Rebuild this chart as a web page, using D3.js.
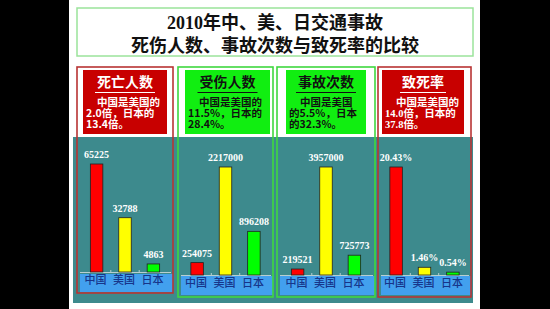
<!DOCTYPE html>
<html>
<head>
<meta charset="utf-8">
<script src="https://cdn.jsdelivr.net/npm/d3@7"></script>
<style>
  body { margin: 0; background: #000; }
  svg { display: block; }
</style>
</head>
<body>
<svg id="chart" width="550" height="309"></svg>
<script>
// data
const categories = ['中国', '美国', '日本'];
const deaths = [65225, 32788, 4863];
const injuries = [254075, 2217000, 896208];
const accidents = [219521, 3957000, 725773];
const fatality = [20.43, 1.46, 0.54];
const titleLines = ['2010年中、美、日交通事故', '死伤人数、事故次数与致死率的比较'];
const panelTitles = ['死亡人数', '受伤人数', '事故次数', '致死率'];
const panelNotes = [
    ['中国是美国的', '2.0倍，日本的', '13.4倍。'],
    ['中国是美国的', '11.5%，日本的', '28.4%。'],
    ['中国是美国', '的5.5%，日本', '的32.3%。'],
    ['中国是美国的', '14.0倍，日本的', '37.8倍。']
];
const barColors = ['#ff0000', '#ffff00', '#00ff00'];

const sans = '"Noto Sans CJK SC", "Noto Sans", sans-serif';
const serif = '"Liberation Serif", "DejaVu Serif", serif';

let svg = d3.select('#chart');

svg.append('rect').attr('width', 550).attr('height', 309).attr('fill', '#000');
svg.append('rect').attr('x', 69).attr('y', 0).attr('width', 411).attr('height', 309).attr('fill', '#fff');

// title
svg.append('rect')
    .attr('x', 77).attr('y', 8).attr('width', 396).attr('height', 48)
    .attr('fill', 'none').attr('stroke', '#9be39b').attr('stroke-width', 1.5);

svg.selectAll('.title')
    .data(titleLines)
    .join('text')
    .classed('title', true)
    .attr('x', 275)
    .attr('y', (d, i) => 28.5 + i * 23.5)
    .attr('text-anchor', 'middle')
    .style('font-family', sans)
    .style('font-weight', 700)
    .style('font-size', '18px')
    .style('fill', '#111')
    .each(function(d){
        let t = d3.select(this);
        let m = d.match(/^(\d+)(.*)$/);
        if (m) {
            t.append('tspan').style('font-family', serif).text(m[1]);
            t.append('tspan').text(m[2]);
        } else t.text(d);
    });

// teal plot background
svg.append('rect')
    .attr('x', 73).attr('y', 137).attr('width', 400).attr('height', 166)
    .attr('fill', '#3d8a8d');

let panels = [
    {x0: 77, x1: 173, hx0: 83, hx1: 167, base: 272, bandTop: 274, bandBot: 292, bottom: 293,
        values: deaths, fmt: d => d, theme: 'red', numFont: sans},
    {x0: 178, x1: 273, hx0: 185, hx1: 270, base: 275, bandTop: 276, bandBot: 295, bottom: 297,
        values: injuries, fmt: d => d, theme: 'green', numFont: sans},
    {x0: 277, x1: 375, hx0: 286, hx1: 366, base: 275, bandTop: 276, bandBot: 295, bottom: 297,
        values: accidents, fmt: d => d, theme: 'green', numFont: sans},
    {x0: 378, x1: 471, hx0: 382, hx1: 464, base: 275, bandTop: 276, bandBot: 295, bottom: 297,
        values: fatality, fmt: d => d.toFixed(2) + '%', theme: 'red', numFont: serif}
];

panels.forEach((p, k) => {
    let g = svg.append('g');
    let cx = (p.x0 + p.x1) / 2;
    let red = p.theme === 'red';

    // category band
    g.append('rect')
        .attr('x', p.x0 + 3).attr('y', p.bandTop)
        .attr('width', p.x1 - p.x0 - 3).attr('height', p.bandBot - p.bandTop)
        .attr('fill', '#42a0ee');

    let xScale = d3.scaleBand()
        .domain(categories)
        .range([cx - 46, cx + 46])
        .paddingInner(0.56)
        .paddingOuter(0.4);

    let yScale = d3.scaleLinear()
        .domain([0, d3.max(p.values)])
        .range([p.base, p.base - 108]);

    // baseline with small ticks between categories
    g.append('line')
        .attr('x1', p.x0 + 3).attr('x2', p.x1 - 2)
        .attr('y1', p.base + 0.5).attr('y2', p.base + 0.5)
        .attr('stroke', '#b9cfd0').attr('stroke-width', 1);
    let half = xScale.step() * xScale.paddingInner() / 2;
    g.selectAll('.tick2')
        .data(categories.slice(1))
        .join('line')
        .attr('x1', d => xScale(d) - half).attr('x2', d => xScale(d) - half)
        .attr('y1', p.base - 2).attr('y2', p.base + 0.5)
        .attr('stroke', '#b9cfd0');

    let data = categories.map((c, i) => ({c: c, v: p.values[i], col: barColors[i]}));

    g.selectAll('.bar')
        .data(data)
        .join('rect')
        .classed('bar', true)
        .attr('x', d => xScale(d.c))
        .attr('y', d => yScale(d.v))
        .attr('width', xScale.bandwidth())
        .attr('height', d => p.base - yScale(d.v))
        .attr('fill', d => d.col)
        .attr('stroke', '#222').attr('stroke-width', 0.8);

    g.selectAll('.val')
        .data(data)
        .join('text')
        .classed('val', true)
        .attr('x', d => xScale(d.c) + xScale.bandwidth() / 2)
        .attr('y', d => yScale(d.v) - 6)
        .attr('text-anchor', 'middle')
        .style('font-family', serif)
        .style('font-weight', 700)
        .style('font-size', '10px')
        .style('fill', '#fff')
        .text(d => p.fmt(d.v));

    // category labels
    let axis = d3.axisBottom(xScale).tickSize(0).tickPadding(0);
    let ag = g.append('g')
        .attr('transform', `translate(-1, ${(p.bandTop + p.bandBot) / 2 - 6.5})`)
        .call(axis);
    ag.select('.domain').remove();
    ag.selectAll('text')
        .style('font-family', sans)
        .style('font-weight', 500)
        .style('font-size', '11px')
        .style('fill', '#17358a');

    // panel border
    g.append('rect')
        .attr('x', p.x0).attr('y', 67)
        .attr('width', p.x1 - p.x0).attr('height', p.bottom - 67)
        .attr('fill', 'none')
        .attr('stroke', red ? '#b83434' : '#3fd83f')
        .attr('stroke-width', 1.6);

    // header box
    let fg = red ? '#fff' : '#111';
    g.append('rect')
        .attr('x', p.hx0).attr('y', 70)
        .attr('width', p.hx1 - p.hx0).attr('height', 64)
        .attr('fill', red ? '#c80000' : '#11ee11');

    let hc = (p.hx0 + p.hx1) / 2;
    let title = g.append('text')
        .attr('x', hc).attr('y', 87)
        .attr('text-anchor', 'middle')
        .style('font-family', sans)
        .style('font-weight', 700)
        .style('font-size', '14px')
        .style('fill', fg)
        .text(panelTitles[k]);
    let tw = title.node().getComputedTextLength();
    g.append('line')
        .attr('x1', hc - tw / 2 - 2).attr('x2', hc + tw / 2 + 2)
        .attr('y1', 92.5).attr('y2', 92.5)
        .attr('stroke', fg).attr('stroke-width', 1);

    g.selectAll('.note')
        .data(panelNotes[k])
        .join('text')
        .classed('note', true)
        .attr('x', (d, i) => p.hx0 + 3 + (i === 0 ? 11 : 0))
        .attr('y', (d, i) => 106 + i * 10.8)
        .style('font-family', sans)
        .style('font-weight', 700)
        .style('font-size', '10.5px')
        .style('fill', fg)
        .each(function(d){
            let t = d3.select(this);
            d.split(/(\d+\.\d+)/).forEach(s => {
                if (!s) return;
                let isNum = /^\d+\.\d+$/.test(s);
                t.append('tspan')
                    .style('font-family', isNum ? p.numFont : sans)
                    .text(s);
            });
        });
});
</script>
</body>
</html>
